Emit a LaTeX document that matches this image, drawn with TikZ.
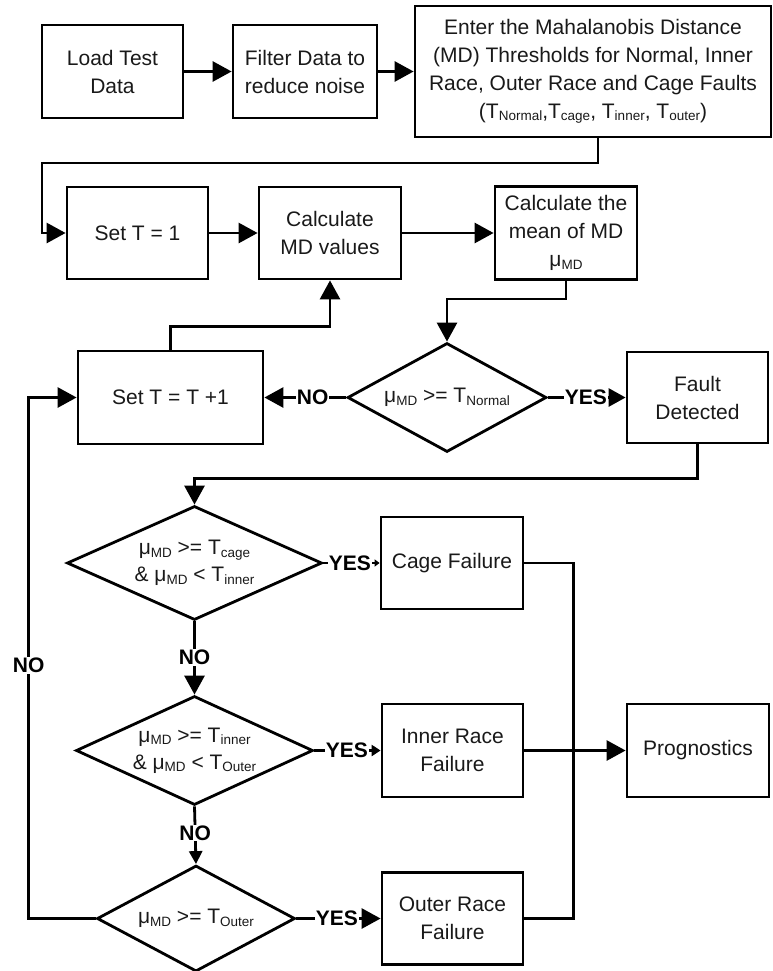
\documentclass[tikz,border=0pt]{standalone}
\usepackage{fontspec}
\setmainfont{Liberation Sans}
\usetikzlibrary{shapes.geometric,arrows.meta}
\newcommand\sbx[1]{\raisebox{-2.5pt}{\fontsize{13.5}{14}\selectfont #1}}
\begin{document}
\begin{tikzpicture}[x=1pt,y=-1pt,line width=2.8pt,
  box/.style={draw,rectangle,inner sep=0pt,align=center,text=black!90,
    font=\fontsize{21}{28}\selectfont},
  dia/.style={draw,diamond,inner sep=0pt,align=center,text=black!90,
    font=\fontsize{21}{27}\selectfont},
  lbl/.style={font=\bfseries\fontsize{21}{21}\selectfont,fill=white,inner sep=1pt,text=black},
  big/.style={-{Triangle[length=19pt,width=20pt]}},
  mid/.style={-{Triangle[length=13pt,width=13pt]}},
  sml/.style={-{Triangle[length=9pt,width=11pt]}},
  tny/.style={-{Triangle[length=5pt,width=7pt]}}]
\useasboundingbox (0,0) rectangle (773,971);

\node[box,minimum width=141pt,minimum height=93pt] (load) at (112.5,71.5) {Load Test\\Data};
\node[box,minimum width=144pt,minimum height=93pt] (filter) at (305,71.5) {Filter Data to\\reduce noise};
\node[box,minimum width=356pt,minimum height=131pt] (md) at (593,71.5)
  {Enter the Mahalanobis Distance\\(MD) Thresholds for Normal, Inner\\Race, Outer Race and Cage Faults\\(T\sbx{Normal},T\sbx{cage}, T\sbx{inner}, T\sbx{outer})};

\node[box,minimum width=141pt,minimum height=92pt] (set1) at (137.5,233) {Set T = 1};
\node[box,minimum width=142pt,minimum height=92pt] (calcmd) at (330,233) {Calculate\\MD values};
\node[box,minimum width=142pt,minimum height=93pt] (mean) at (566,233) {Calculate the\\mean of MD\\μ\sbx{MD}};

\node[box,minimum width=185pt,minimum height=93pt] (inc) at (170.5,397.5) {Set T = T +1};
\node[dia,minimum width=199pt,minimum height=109pt,shape aspect=1.83] (d1) at (447,397.5) {μ\sbx{MD} >= T\sbx{Normal}};
\node[box,minimum width=141pt,minimum height=91pt] (fault) at (697.5,397.5) {Fault\\Detected};

\node[dia,minimum width=255pt,minimum height=114pt,shape aspect=2.24] (d2) at (194.5,563) {μ\sbx{MD} >= T\sbx{cage}\\\& μ\sbx{MD} < T\sbx{inner}};
\node[box,minimum width=142pt,minimum height=92pt] (cage) at (452,563) {Cage Failure};

\node[dia,minimum width=237pt,minimum height=109pt,shape aspect=2.17] (d3) at (194.5,750.5) {μ\sbx{MD} >= T\sbx{inner}\\\& μ\sbx{MD} < T\sbx{Outer}};
\node[box,minimum width=141pt,minimum height=93pt] (inner) at (452.5,750.5) {Inner Race\\Failure};
\node[box,minimum width=142pt,minimum height=93pt] (prog) at (698,750.5) {Prognostics};

\node[dia,minimum width=198pt,minimum height=106pt,shape aspect=1.87] (d4) at (196,918.5) {μ\sbx{MD} >= T\sbx{Outer}};
\node[box,minimum width=141pt,minimum height=92pt] (outer) at (452.5,918.5) {Outer Race\\Failure};

% connectors
\draw[big] (load) -- (filter);
\draw[big] (filter) -- (md);
\coordinate (c1) at (42,163);
\draw[big] ([xshift=5pt]md.south) |- (c1) |- (set1.west);
\draw[big] (set1) -- (calcmd);
\draw[big] (calcmd) -- (mean);
\draw[big] (mean.south) -- ++(0,18) -| (d1.north);
\draw[big] (d1.west) -- node[lbl,pos=0.41]{NO} (inc.east);
\draw[big] (inc.north) -- ++(0,-23) -| (calcmd.south);
\draw[-{Triangle[length=17pt,width=18pt]}] (d1.east) -- node[lbl,pos=0.49]{YES} (fault.west);
\draw[big] (fault.south) -- ++(0,34) -| (d2.north);
\draw[tny] (d2.east) -- node[lbl,pos=0.47]{YES} (cage.west);
\draw[big] (d2.south) -- node[lbl,pos=0.49]{NO} (d3.north);
\draw[sml] (d3.east) -- node[lbl,pos=0.49]{YES} (inner.west);
\draw[mid] (d3.south) -- node[lbl,pos=0.46]{NO} (d4.north);
\draw[big] (d4.east) -- node[lbl,pos=0.48]{YES} (outer.west);
\draw[big] (d4.west) -- ++(-67,0) |- node[lbl,pos=0.243]{NO} (inc.west);
\draw (cage.east) -- ++(49,0) |- (outer.east);
\draw[big] (inner.east) -- (prog.west);
\end{tikzpicture}
\end{document}
